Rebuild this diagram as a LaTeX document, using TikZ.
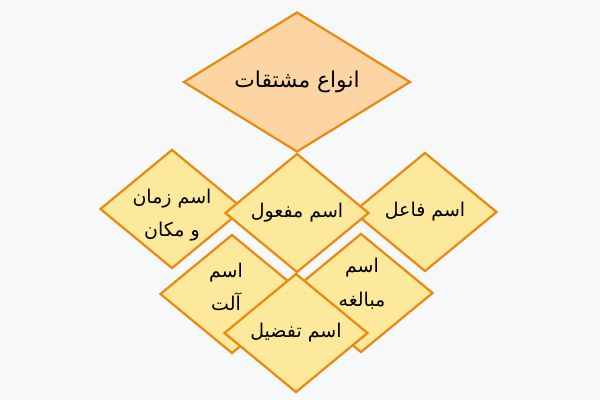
\documentclass[tikz,border=0pt]{standalone}
\usepackage{fontspec}
\newfontfamily\arabicfont[Script=Arabic]{DejaVu Sans}
\TeXXeTstate=1
\usetikzlibrary{shapes.geometric}
\definecolor{pagegrey}{HTML}{F7F8FA}
\definecolor{peach}{HTML}{FDD5A2}
\definecolor{lemon}{HTML}{FDE99B}
\definecolor{edgeorange}{HTML}{EA8A12}
\newlength{\pgfxx}
\setlength{\pgfxx}{0.025cm}
\tikzset{
  kind/.style={diamond, draw=edgeorange, line width=1.6pt, fill=lemon,
    inner sep=0pt, minimum width=144\pgfxx, minimum height=119\pgfxx},
  rootkind/.style={kind, fill=peach, minimum width=227\pgfxx, minimum height=140\pgfxx},
  kindtext/.style={inner sep=0pt, align=center, font=\arabicfont\fontsize{13.5}{24}\selectfont},
  roottext/.style={kindtext, font=\arabicfont\fontsize{15.5}{18}\selectfont}
}
\begin{document}
\begin{tikzpicture}[x=0.025cm, y=-0.025cm]
%page
\fill [pagegrey] (0,0) rectangle (600,400);
\useasboundingbox (0,0) rectangle (600,400);
%the root
\node [rootkind] (root) at (297,82) {};
\node [roottext] (roottxt) at (root) {\beginR انواع مشتقات\endR};
%first row
\node [kind] (zaman) at (172,209) {};
\node [kindtext] (zamantxt) at (172,215) {\beginR اسم زمان\endR\\\beginR و مکان\endR};
\node [kind] (fael) at (425,212) {};
\node [kindtext] (faeltxt) at (fael) {\beginR اسم فاعل\endR};
\node [kind] (mafool) at (297,213) {};
\node [kindtext] (mafooltxt) at (mafool) {\beginR اسم مفعول\endR};
%second row
\node [kind] (alat) at (232,294) {};
\node [kindtext] (alattxt) at (226,287) {\beginR اسم\endR\\\beginR آلت\endR};
\node [kind] (mobaleghe) at (361,293) {};
\node [kindtext] (mobaleghetxt) at (362,284) {\beginR اسم\endR\\\beginR مبالغه\endR};
\node [kind] (tafzil) at (296,333) {};
\node [kindtext] (tafziltxt) at (tafzil) {\beginR اسم تفضیل\endR};
\end{tikzpicture}
\end{document}
